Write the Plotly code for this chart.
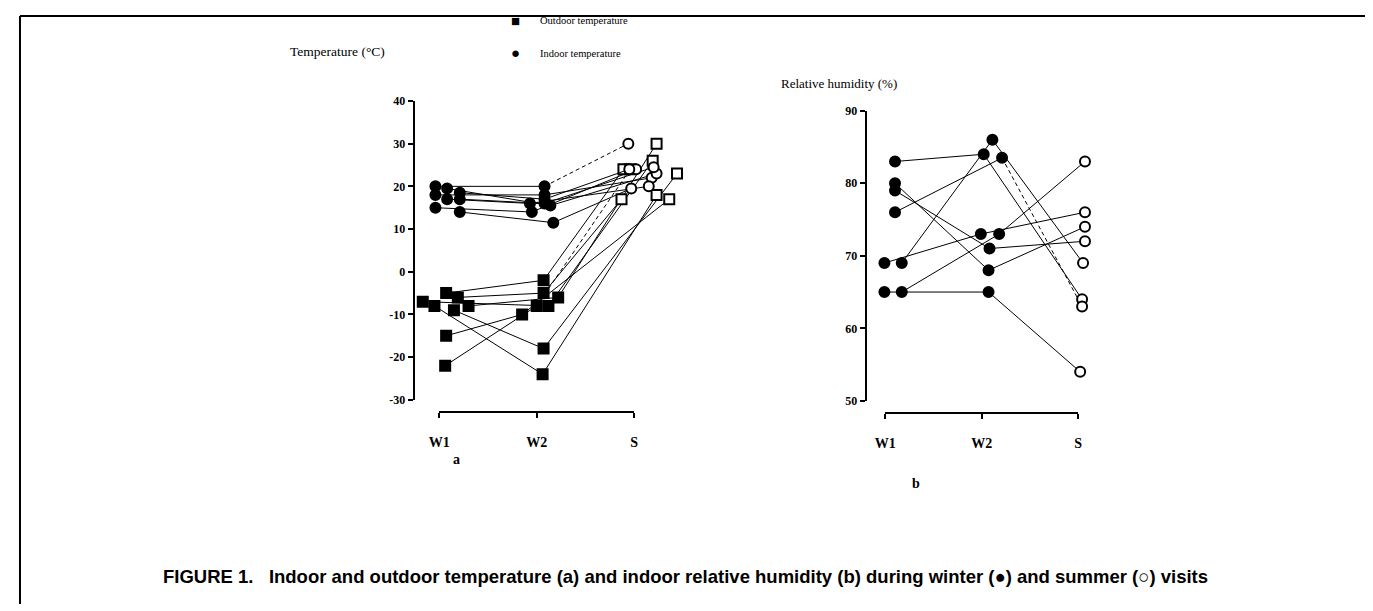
import plotly.graph_objects as go

# Visits on the x axis
VISITS = ["W1", "W2", "S"]

# Panel a: outdoor temperature (°C), one entry per home
OUT_W1 = [-7, -8, -5, -9, -6, -8, -15, -22]
OUT_W2 = [-8, -24, -2, -18, -5, -6, -10, -8]
OUT_S = [26, 18, 24, 23, 17, 30, 17, 24]
# horizontal scatter of the points around each visit (in visit units)
OUT_X_W1 = [0.83, 0.95, 1.07, 1.15, 1.19, 1.30, 1.07, 1.06]
OUT_X_W2 = [2.12, 2.06, 2.07, 2.07, 2.07, 2.22, 1.85, 2.00]
OUT_X_S = [3.19, 3.23, 2.89, 3.44, 2.87, 3.23, 3.36, 2.96]
OUT_DASHED = [False, False, False, False, False, False, False, True]

# Panel a: indoor temperature (°C)
IN_W1 = [20, 18, 15, 19.5, 17, 18.5, 17, 14]
IN_W2 = [20, 18, 14, 15.5, 16, 17, 16, 11.5]
IN_S = [30, 22, 24, 23, 20, 24, 24.5, 19.5]
IN_X_W1 = [0.96, 0.96, 0.96, 1.08, 1.08, 1.21, 1.21, 1.21]
IN_X_W2 = [2.08, 2.08, 1.95, 2.14, 1.93, 2.08, 2.08, 2.17]
IN_X_S = [2.94, 3.18, 3.02, 3.23, 3.15, 2.95, 3.20, 2.97]
IN_DASHED = [True, False, False, False, False, False, False, False]

# Panel b: indoor relative humidity (%)
RH_W1 = [83, 80, 79, 76, 69, 69, 65, 65]
RH_W2 = [84, 68, 71, 83.5, 73, 86, 65, 73]
RH_S = [64, 74, 72, 63, 76, 69, 54, 83]
RH_X_W1 = [1.10, 1.10, 1.10, 1.10, 0.99, 1.17, 0.99, 1.17]
RH_X_W2 = [2.02, 2.07, 2.08, 2.21, 1.99, 2.11, 2.07, 2.18]
RH_X_S = [3.04, 3.07, 3.07, 3.04, 3.07, 3.05, 3.02, 3.07]
RH_DASHED = [False, False, False, True, False, False, False, False]

TEMP_TICKS = [-30, -20, -10, 0, 10, 20, 30, 40]
RH_TICKS = [50, 60, 70, 80, 90]

W, H = 1373, 611
PAGE = 8  # the html body margin: the figure starts 8px in from the window edge
FIG_W, FIG_H = W - PAGE, H - PAGE
SERIF = "Liberation Serif"


def fx(p):
    return (p - PAGE) / FIG_W


def fy(p):
    return 1 - (p - PAGE) / FIG_H


# pixel anchors of each panel: y-axis line, W1 tick, S tick, right edge, top, bottom, x-axis line
PANELS = {
    "a": dict(yax=408, w1=433, s=630, right=692, top=96, bottom=402, xline=413),
    "b": dict(yax=865, w1=884, s=1079, right=1100, top=106, bottom=403, xline=414),
}


def x_range(p):
    unit = (p["s"] - p["w1"]) / 2
    return [1 - (p["w1"] - p["yax"]) / unit, 3 + (p["right"] - p["s"]) / unit]


fig = go.Figure()


def add_subjects(xs, ys, dashed, symbol, xref, yref):
    for i in range(len(ys[0])):
        px = [xs[0][i], xs[1][i], xs[2][i]]
        py = [ys[0][i], ys[1][i], ys[2][i]]
        fig.add_trace(go.Scatter(x=px[:2], y=py[:2], mode="lines", xaxis=xref, yaxis=yref,
                                 line=dict(color="black", width=1), showlegend=False, hoverinfo="skip"))
        fig.add_trace(go.Scatter(x=px[1:], y=py[1:], mode="lines", xaxis=xref, yaxis=yref,
                                 line=dict(color="black", width=1, dash="4px,3px" if dashed[i] else "solid"),
                                 showlegend=False, hoverinfo="skip"))
    for j in range(3):
        fig.add_trace(go.Scatter(
            x=xs[j], y=ys[j], mode="markers", xaxis=xref, yaxis=yref, showlegend=False,
            marker=dict(symbol=symbol, size=10, color="black" if j < 2 else "white",
                        line=dict(color="black", width=2)),
        ))


add_subjects([OUT_X_W1, OUT_X_W2, OUT_X_S], [OUT_W1, OUT_W2, OUT_S], OUT_DASHED, "square", "x", "y")
add_subjects([IN_X_W1, IN_X_W2, IN_X_S], [IN_W1, IN_W2, IN_S], IN_DASHED, "circle", "x", "y")
add_subjects([RH_X_W1, RH_X_W2, RH_X_S], [RH_W1, RH_W2, RH_S], RH_DASHED, "circle", "x2", "y2")

tickfont = dict(family=SERIF, size=12, color="black", weight="bold")
yax_common = dict(showline=True, linecolor="black", linewidth=2, ticks="outside", ticklen=5,
                  tickwidth=2, tickcolor="black", showgrid=False, zeroline=False, tickfont=tickfont)
xline_common = dict(showline=True, linecolor="black", linewidth=2, ticks="outside", ticklen=5,
                    tickwidth=2, tickcolor="black", showgrid=False, zeroline=False, range=[1, 3],
                    tickvals=[1, 2, 3], ticktext=VISITS, ticklabelstandoff=12,
                    tickfont=dict(family=SERIF, size=14, color="black", weight="bold"))

pa, pb = PANELS["a"], PANELS["b"]
fig.update_layout(
    width=FIG_W, height=FIG_H, margin=dict(l=0, r=0, t=0, b=0),
    paper_bgcolor="white", plot_bgcolor="rgba(0,0,0,0)", showlegend=False,
    xaxis=dict(domain=[fx(pa["yax"]), fx(pa["right"])], range=x_range(pa), visible=False),
    yaxis=dict(domain=[fy(pa["bottom"]), fy(pa["top"])], range=[-30, 40], anchor="x",
               tickvals=TEMP_TICKS, ticktext=[str(v) for v in TEMP_TICKS], **yax_common),
    xaxis2=dict(domain=[fx(pb["yax"]), fx(pb["right"])], range=x_range(pb), visible=False, anchor="y2"),
    yaxis2=dict(domain=[fy(pb["bottom"]), fy(pb["top"])], range=[50, 90], anchor="x2",
                tickvals=RH_TICKS, ticktext=[str(v) for v in RH_TICKS], **yax_common),
    xaxis3=dict(domain=[fx(pa["w1"]), fx(pa["s"])], anchor="y3", **xline_common),
    yaxis3=dict(domain=[fy(pa["xline"]) - 0.001, fy(pa["xline"])], anchor="x3", visible=False),
    xaxis4=dict(domain=[fx(pb["w1"]), fx(pb["s"])], anchor="y4", **xline_common),
    yaxis4=dict(domain=[fy(pb["xline"]) - 0.001, fy(pb["xline"])], anchor="x4", visible=False),
)

# dummy traces so the axis-line subplots exist
fig.add_trace(go.Scatter(x=[None], y=[None], xaxis="x3", yaxis="y3", showlegend=False))
fig.add_trace(go.Scatter(x=[None], y=[None], xaxis="x4", yaxis="y4", showlegend=False))


def note(text, x, y, size, family=SERIF, xanchor="center", weight="normal"):
    fig.add_annotation(text=text, x=fx(x), y=fy(y), xref="paper", yref="paper", showarrow=False,
                       xanchor=xanchor, yanchor="middle",
                       font=dict(family=family, size=size, color="black", weight=weight))


note("Temperature (°C)", 280, 45, 13.5, xanchor="left")
note("Relative humidity (%)", 776, 78, 13, xanchor="left")
note("■", 510, 14, 15)
note("Outdoor temperature", 533, 14, 10.5, xanchor="left")
note("●", 510, 47, 15)
note("Indoor temperature", 533, 47, 10.5, xanchor="left")
note("a", 450, 463, 14, weight="bold")
note("b", 915, 488, 14, weight="bold")
note("FIGURE 1.\u00a0\u00a0 Indoor and outdoor temperature (a) and indoor relative humidity (b) "
     "during winter (\u25cf) and summer (\u25cb) visits", 152, 583, 18.5,
     family="Liberation Sans", xanchor="left", weight="bold")

# frame lines of the scanned page
fig.add_shape(type="line", xref="paper", yref="paper", x0=fx(9), x1=1, y0=fy(9), y1=fy(9),
              line=dict(color="black", width=2))
fig.add_shape(type="line", xref="paper", yref="paper", x0=fx(9), x1=fx(9), y0=fy(9), y1=0,
              line=dict(color="black", width=2))
fig.add_shape(type="line", xref="paper", yref="paper", x0=fx(1371), x1=fx(1371), y0=fy(455), y1=fy(485),
              line=dict(color="black", width=1))

fig.write_html("out.html")
